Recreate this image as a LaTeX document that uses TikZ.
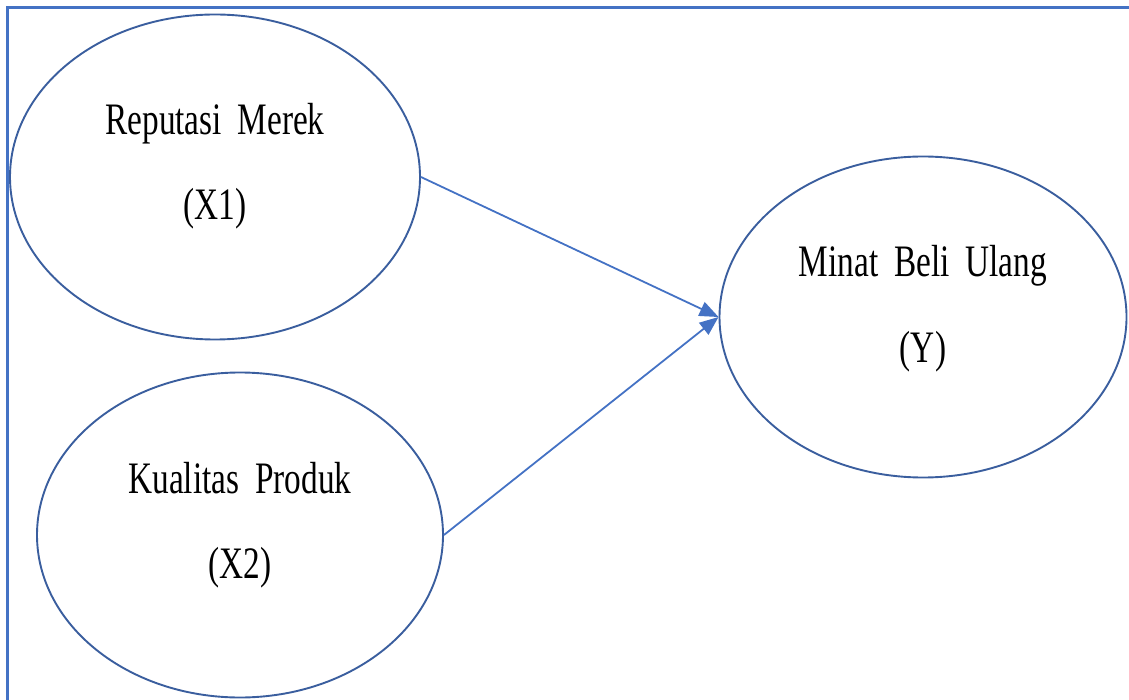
\documentclass[tikz,border=0pt]{standalone}
\usepackage{fontspec}
\setmainfont{Liberation Serif}[FakeStretch=0.74, WordSpace=1.9]
\usetikzlibrary{shapes.geometric,arrows.meta}
\definecolor{frameblue}{HTML}{4472C4}
\definecolor{ellblue}{HTML}{3A5E9E}
\begin{document}
\begin{tikzpicture}[x=1pt,y=-1pt,
  latent/.style={ellipse, draw=ellblue, line width=1.9pt, inner sep=0pt},
  lbl/.style={anchor=base, font=\fontsize{45}{50}\selectfont, inner sep=0pt},
  conn/.style={draw=frameblue, line width=1.8pt, -{Triangle[length=19pt,width=15pt]}}]
\useasboundingbox (0,0) rectangle (1129,700);
\draw[frameblue, line width=3pt] (7,700) -- (7,8) -- (1129,8);
\node[latent, minimum width=410pt, minimum height=325pt] (x1) at (215,177) {};
\node[latent, minimum width=406pt, minimum height=325pt] (x2) at (240,535) {};
\node[latent, minimum width=407pt, minimum height=321pt] (y) at (923,317) {};
\node[lbl] (x1a) at ([yshift=42pt]x1.center) {Reputasi Merek};
\node[lbl] (x1b) at ([yshift=-43pt]x1.center) {(X1)};
\node[lbl] (x2a) at ([yshift=42pt]x2.center) {Kualitas Produk};
\node[lbl] (x2b) at ([yshift=-43pt]x2.center) {(X2)};
\node[lbl] (ya) at ([yshift=40pt]y.center) {Minat Beli Ulang};
\node[lbl] (yb) at ([yshift=-45pt]y.center) {(Y)};
\draw[conn] (x1.east) -- (y.west);
\draw[conn] (x2.east) -- (y.west);
\end{tikzpicture}
\end{document}
